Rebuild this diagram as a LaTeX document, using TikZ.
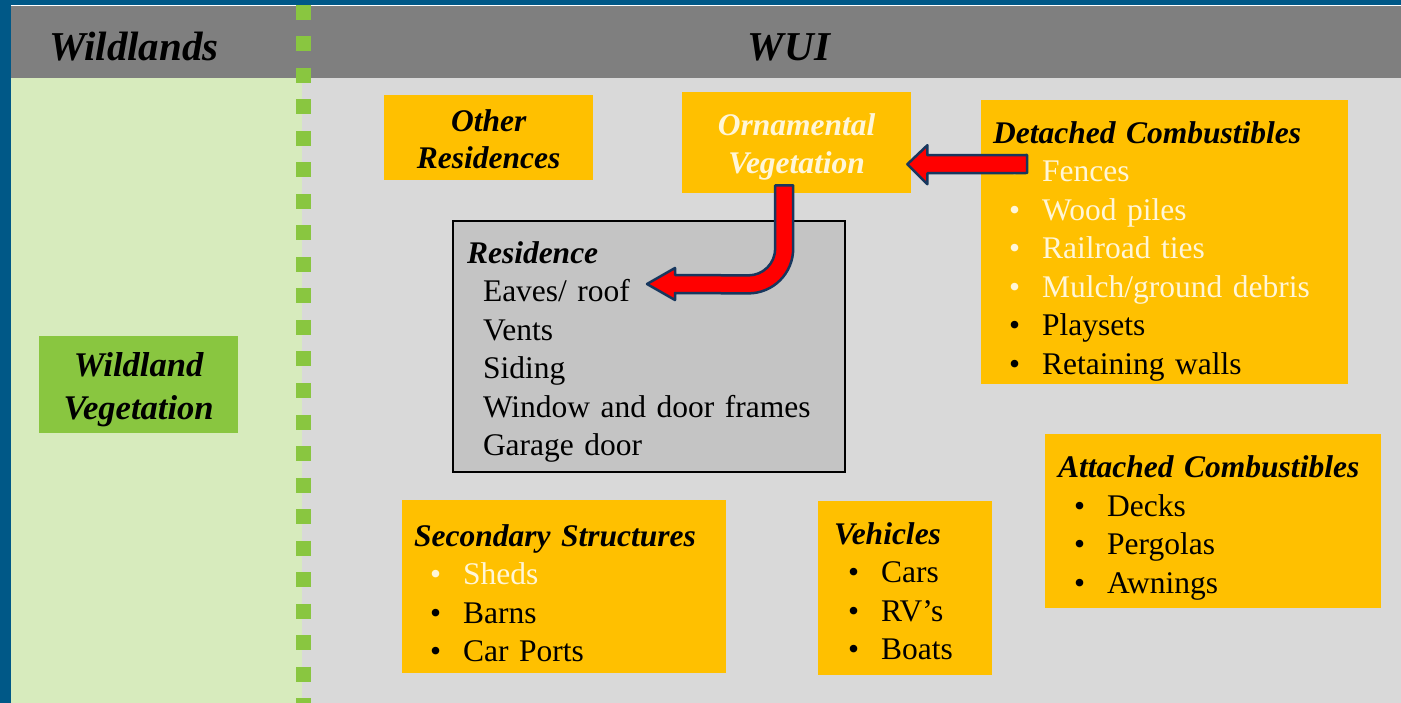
\documentclass[tikz,border=0pt]{standalone}
\usepackage{fontspec}
\setmainfont{Liberation Serif}
\usepackage{tikz}
\usetikzlibrary{positioning, calc}
\usepackage{xcolor}
\definecolor{wuiblue}{RGB}{0,88,135}
\definecolor{hdrgray}{RGB}{127,127,127}
\definecolor{wildpale}{RGB}{215,235,189}
\definecolor{wuipale}{RGB}{217,217,217}
\definecolor{grassgreen}{RGB}{137,198,64}
\definecolor{wuigold}{RGB}{255,192,0}
\definecolor{cream}{RGB}{255,246,216}
\definecolor{resgray}{RGB}{196,196,196}
\definecolor{firered}{RGB}{255,0,0}
\definecolor{navyedge}{RGB}{23,55,94}
\newcommand{\itm}[1]{\hspace*{16pt}\makebox[33pt][l]{\textbullet}#1}
\newcommand{\hd}[2][35pt]{\rule{0pt}{#1}\textbf{\textit{#2}}}

\begin{document}
\begin{tikzpicture}[
    x=1pt, y=-1pt,
    bigfont/.style={font=\fontsize{41}{46}\selectfont\bfseries\itshape},
    tagbox/.style={rectangle, fill=wuigold, anchor=north west, inner sep=0pt,
                   align=center, font=\fontsize{31.5}{37.5}\selectfont\bfseries\itshape},
    listbox/.style={rectangle, fill=wuigold, anchor=north west, inner ysep=0pt,
                    inner xsep=12pt, align=left, font=\fontsize{31.5}{38.5}\selectfont},
    fatarrow/.style={fill=firered, draw=navyedge, line width=2.5pt, line join=round},
]
    \useasboundingbox (0,0) rectangle (1401,703);

    % Panels
    \fill[wuiblue] (0,0) rectangle (1401,703);
    \fill[white] (11,5) rectangle (1401,7);
    \fill[hdrgray] (11,6.5) rectangle (1401,78);
    \fill[wildpale] (11,78) rectangle (302,703);
    \fill[wuipale] (302,78) rectangle (1401,703);
    \draw[grassgreen, line width=15pt, dash pattern=on 15pt off 16.5pt] (303,5) -- (303,703);

    \node[bigfont] (hdwild) at (134,47) {Wildlands};
    \node[bigfont] (hdwui) at (789,47) {WUI};

    % Blocks
    \node[tagbox, fill=grassgreen, minimum width=199pt, minimum height=97pt,
          font=\fontsize{34.6}{43}\selectfont\bfseries\itshape] (wveg) at (39,336) {\rule{0pt}{34pt}Wildland\\Vegetation};
    \node[tagbox, minimum width=209pt, minimum height=85pt] (oth) at (384,95) {\rule{0pt}{25pt}Other\\Residences};
    \node[tagbox, minimum width=229pt, minimum height=101pt, text=cream] (orn) at (682,92) {\rule{0pt}{30pt}Ornamental\\Vegetation};

    \node[listbox, minimum width=367pt, minimum height=284pt, text width=343pt] (det) at (981,100)
        {\hd[40pt]{Detached Combustibles}\\
         \textcolor{cream}{\itm{Fences}}\\
         \textcolor{cream}{\itm{Wood piles}}\\
         \textcolor{cream}{\itm{Railroad ties}}\\
         \textcolor{cream}{\itm{Mulch/ground debris}}\\
         \itm{Playsets}\\
         \itm{Retaining walls}};

    \node[listbox, fill=resgray, draw=black, line width=2pt, inner xsep=14pt,
          minimum width=392pt, minimum height=251pt, text width=364pt] (res) at (452,220)
        {\hd[33pt]{Residence}\\
         \hspace*{16pt}Eaves/ roof\\
         \hspace*{16pt}Vents\\
         \hspace*{16pt}Siding\\
         \hspace*{16pt}Window and door frames\\
         \hspace*{16pt}Garage door};

    \node[listbox, minimum width=324pt, minimum height=173pt, text width=300pt] (sec) at (402,500)
        {\hd{Secondary Structures}\\
         \textcolor{cream}{\itm{Sheds}}\\
         \itm{Barns}\\
         \itm{Car Ports}};

    \node[listbox, inner xsep=16pt, minimum width=174pt, minimum height=174pt, text width=142pt] (veh) at (818,501)
        {\hd[28pt]{Vehicles}\\
         \hspace*{-2pt}\itm{Cars}\\
         \hspace*{-2pt}\itm{RV’s}\\
         \hspace*{-2pt}\itm{Boats}};

    \node[listbox, inner xsep=13pt, minimum width=336pt, minimum height=174pt, text width=310pt] (att) at (1045,434)
        {\hd{Attached Combustibles}\\
         \itm{Decks}\\
         \itm{Pergolas}\\
         \itm{Awnings}};

    % Connections
    \coordinate (fencetail) at ($(det.north west)+(46,64)$);
    \coordinate (fencetip) at ($(orn.east)+(-4,21.5)$);
    \coordinate (bendtop) at ($(orn.south)+(-12.5,-8)$);
    \coordinate (bendtip) at ($(res.north west)+(195,64)$);

    \draw[fatarrow] ($(fencetail)+(0,-9)$) -- ($(fencetip)+(20,-9)$) -- ($(fencetip)+(20,-19)$)
        -- (fencetip) -- ($(fencetip)+(20,20)$) -- ($(fencetip)+(20,9)$) -- ($(fencetail)+(0,9)$) -- cycle;

    \draw[fatarrow] ($(bendtop)+(9,0)$) -- ($(bendtop)+(9,63)$)
        .. controls ($(bendtop)+(9,88)$) and ($(bendtop)+(-11,108)$) .. ($(bendtop)+(-36,108)$)
        -- ($(bendtip)+(28,9)$) -- ($(bendtip)+(28,16)$) -- (bendtip) -- ($(bendtip)+(28,-16)$)
        -- ($(bendtip)+(28,-9)$) -- ($(bendtop)+(-36,90)$)
        .. controls ($(bendtop)+(-21,90)$) and ($(bendtop)+(-9,78)$) .. ($(bendtop)+(-9,63)$)
        -- ($(bendtop)+(-9,0)$) -- cycle;
\end{tikzpicture}
\end{document}
